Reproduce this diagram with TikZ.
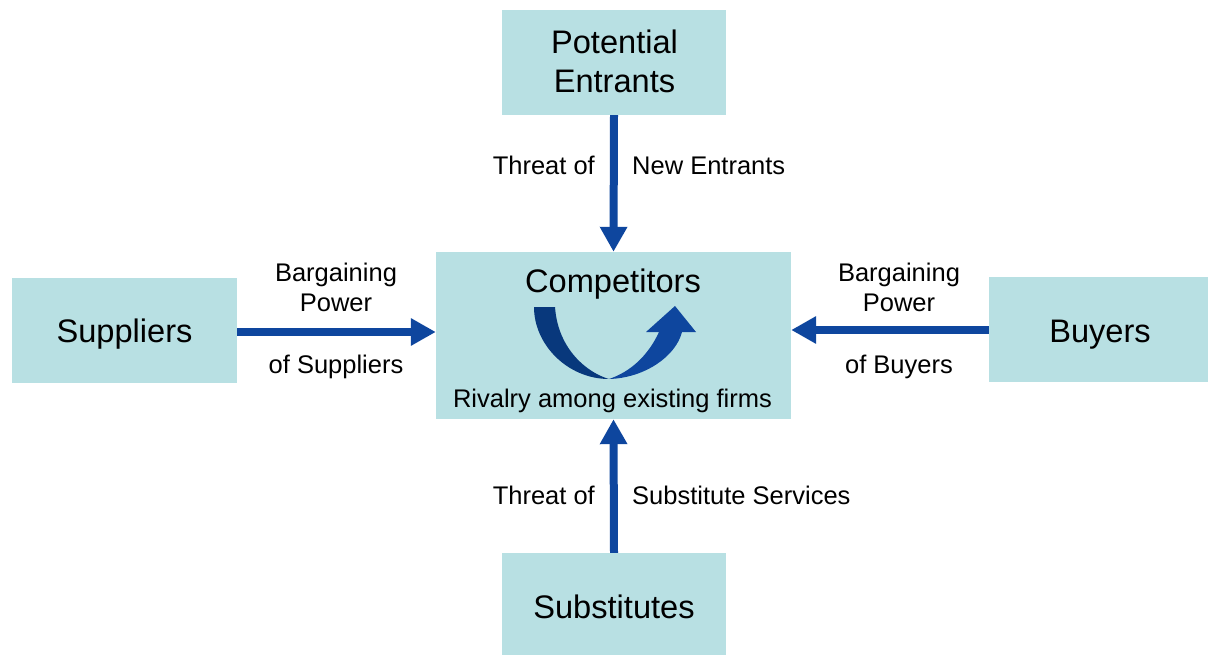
\documentclass[tikz,border=0pt]{standalone}
\usepackage{fontspec}
\setmainfont{Liberation Sans}
\usetikzlibrary{arrows.meta}
\definecolor{boxfill}{RGB}{184,224,227}
\definecolor{arrblue}{RGB}{14,70,158}
\definecolor{darkblue}{RGB}{8,56,124}
\begin{document}
\begin{tikzpicture}[x=1pt,y=-1pt,
  box/.style={draw=none,fill=boxfill,inner sep=0pt,minimum width=#1},
  big/.style={inner sep=0pt,font=\fontsize{32.6}{34}\selectfont},
  small/.style={inner sep=0pt,font=\fontsize{25.5}{29}\selectfont},
  arr/.style={draw=arrblue,line width=8pt,-{Triangle[width=26pt,length=25pt]}}]
\useasboundingbox (0,0) rectangle (1208,655);
% boxes
\node[box=224pt,minimum height=105pt] (pe) at (614,62.5) {};
\node[box=225pt,minimum height=105pt] (sup) at (124.5,330.5) {};
\node[box=355pt,minimum height=167pt] (comp) at (613.5,335.5) {};
\node[box=219pt,minimum height=105pt] (buy) at (1098.5,329.5) {};
\node[box=224pt,minimum height=102pt] (sub) at (614,604) {};
% box texts
\node[big,anchor=base] (pe1) at (614.5,54) {Potential};
\node[big,anchor=base] (pe2) at (614.5,93) {Entrants};
\node[big,anchor=base] (supt) at (124.5,342) {Suppliers};
\node[big,anchor=base] (compt) at (613,293) {Competitors};
\node[small,anchor=base] (riv) at (612.5,407) {Rivalry among existing firms};
\node[big,anchor=base] (buyt) at (1100,342) {Buyers};
\node[big,anchor=base] (subt) at (614,618) {Substitutes};
% coordinates for horizontal arrows
\coordinate (ly) at (0,332);
\coordinate (ry) at (0,330);
% arrows
\draw[arr] (pe.south) -- (comp.north);
\draw[arr] (sub.north) -- (comp.south);
\draw[arr] (sup.east |- ly) -- (comp.west |- ly);
\draw[arr] (buy.west |- ry) -- (comp.east |- ry);
% labels
\node[small,anchor=base east] (tn1) at (595,175) {Threat of};
\node[small,anchor=base west] (tn2) at (632,175) {New Entrants};
\node[small,anchor=base east] (ts1) at (595,504) {Threat of};
\node[small,anchor=base west] (ts2) at (632,504) {Substitute Services};
\node[small,anchor=base] (bs1) at (336,282) {Bargaining};
\node[small,anchor=base] (bs2) at (336,311) {Power};
\node[small,anchor=base] (bs3) at (336,373) {of Suppliers};
\node[small,anchor=base] (bb1) at (899,282) {Bargaining};
\node[small,anchor=base] (bb2) at (899,311) {Power};
\node[small,anchor=base] (bb3) at (899,373) {of Buyers};
% rivalry curved arrow
\fill[darkblue] (534,307) .. controls (534,345) and (568,379) .. (609,379)
  .. controls (588,373) and (558,350) .. (555,307) -- cycle;
\fill[arrblue] (609,379) .. controls (645,378) and (676,356) .. (682,332)
  -- (696,332) -- (675,306) -- (646,332) -- (659,332)
  .. controls (648,356) and (630,372) .. (609,379) -- cycle;
\end{tikzpicture}
\end{document}
